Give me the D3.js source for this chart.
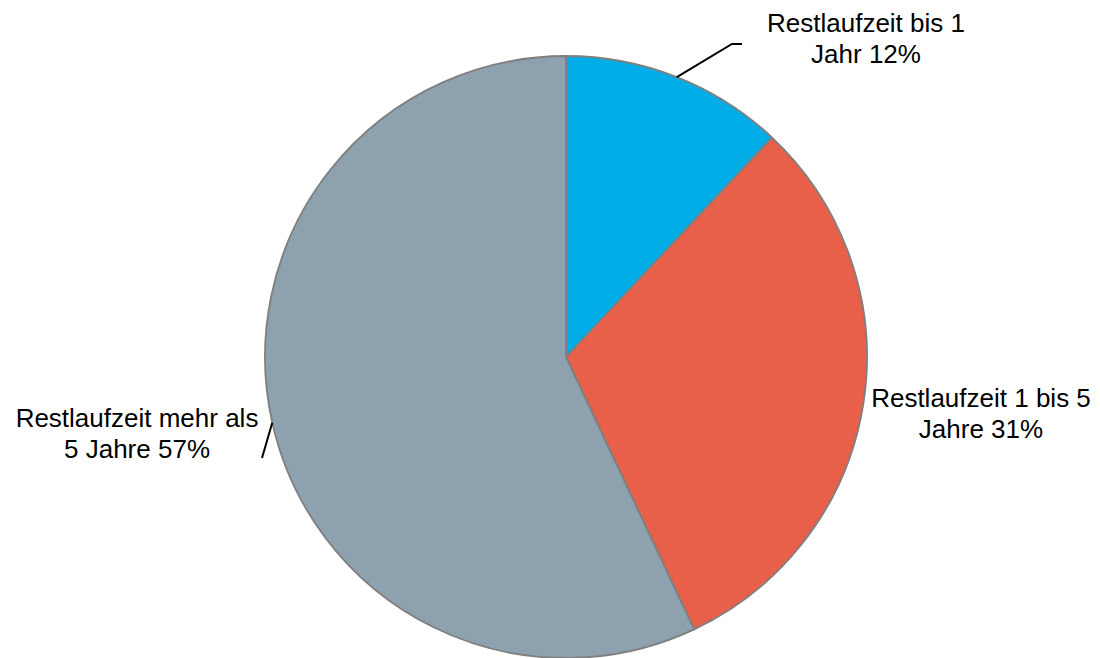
<!DOCTYPE html>
<html><head><meta charset="utf-8">
<script src="https://cdn.jsdelivr.net/npm/d3@7"></script>
<style>body{margin:0;background:#fff}svg{display:block}</style>
</head><body>
<svg id="c" width="1100" height="658"></svg>
<script>
const categories = ["Restlaufzeit bis 1 Jahr", "Restlaufzeit 1 bis 5 Jahre", "Restlaufzeit mehr als 5 Jahre"];
const values = [12, 31, 57];
const labelLines = [["Restlaufzeit bis 1", "Jahr 12%"], ["Restlaufzeit 1 bis 5", "Jahre 31%"], ["Restlaufzeit mehr als", "5 Jahre 57%"]];
const colors = ["#00ADE6", "#E8604A", "#8DA1AE"];

const svg = d3.select("#c");
const cx = 566, cy = 357, R = 301;
const g = svg.append("g").attr("transform", `translate(${cx},${cy})`);
const pie = d3.pie().sort(null).value(d => d);
const arcs = pie(values);
const arc = d3.arc().innerRadius(0).outerRadius(R);

g.selectAll("path.slice").data(arcs).enter().append("path")
  .attr("class", "slice")
  .attr("d", arc)
  .attr("fill", (d, i) => colors[i])
  .attr("stroke", "#7f7f7f")
  .attr("stroke-width", 1.8)
  .attr("stroke-linejoin", "round");

// label placement (relative to pie centre)
const labelPos = [
  {x: 300, y: -325, leader: [[166, -313], [176, -313]]},
  {x: 415, y: 50, leader: null},
  {x: -429, y: 70, leader: [[-304, 101]]}
];

arcs.forEach((d, i) => {
  const lp = labelPos[i];
  if (lp.leader) {
    const mid = (d.startAngle + d.endAngle) / 2;
    const p0 = [R * Math.sin(mid), -R * Math.cos(mid)];
    g.append("path")
      .attr("d", d3.line()([p0, ...lp.leader]))
      .attr("fill", "none")
      .attr("stroke", "#000")
      .attr("stroke-width", 2);
  }
  const t = g.append("text")
    .attr("x", lp.x).attr("y", lp.y)
    .attr("text-anchor", "middle")
    .attr("font-family", "Liberation Sans, Arial, sans-serif")
    .attr("font-size", 26)
    .attr("fill", "#000");
  labelLines[i].forEach((ln, k) => {
    t.append("tspan").attr("x", lp.x).attr("y", lp.y + k * 30.5).text(ln);
  });
});
</script>
</body></html>
